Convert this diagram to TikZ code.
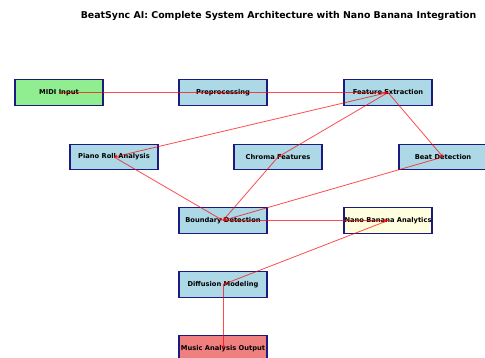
\documentclass[tikz,border=0pt]{standalone}
\usepackage{fontspec}
\setmainfont{DejaVu Sans}
\usetikzlibrary{arrows.meta}
\definecolor{lgreen}{HTML}{90EE90}
\definecolor{lblue}{HTML}{ADD8E6}
\definecolor{lyellow}{HTML}{FFFFE0}
\definecolor{lcoral}{HTML}{F08080}
\definecolor{navyb}{HTML}{1A1A80}
\tikzset{
  box/.style={draw=navyb, line width=1.1pt, minimum width=88pt, minimum height=25.5pt, inner sep=0pt, font=\fontsize{6.7}{8}\selectfont\bfseries},
  flow/.style={draw=red, draw opacity=0.7, line width=0.8pt, -{Stealth[length=3.5pt,width=3.5pt]}}
}
\begin{document}
\begin{tikzpicture}[x=1pt,y=-1pt]
\useasboundingbox (0,0) rectangle (485,358);
\node[font=\fontsize{9.4}{11}\selectfont\bfseries] (title) at (278.5,15.5) {BeatSync AI: Complete System Architecture with Nano Banana Integration};
\node[box, fill=lgreen] (midi) at (59,92.5) {MIDI Input};
\node[box, fill=lblue] (pre) at (223,92.5) {Preprocessing};
\node[box, fill=lblue] (fe) at (388,92.5) {Feature Extraction};
\node[box, fill=lblue] (piano) at (114,157) {Piano Roll Analysis};
\node[box, fill=lblue] (chroma) at (278,157) {Chroma Features};
\node[box, fill=lblue] (beat) at (443,157) {Beat Detection};
\node[box, fill=lblue] (bound) at (223,220.5) {Boundary Detection};
\node[box, fill=lyellow] (nano) at (388,220.5) {Nano Banana Analytics};
\node[box, fill=lblue] (diff) at (223,284.5) {Diffusion Modeling};
\node[box, fill=lcoral] (out) at (223,348.5) {Music Analysis Output};
\draw[flow] (midi.center) -- (pre.center);
\draw[flow] (pre.center) -- (fe.center);
\draw[flow] (fe.center) -- (piano.center);
\draw[flow] (fe.center) -- (chroma.center);
\draw[flow] (fe.center) -- (beat.center);
\draw[flow] (piano.center) -- (bound.center);
\draw[flow] (chroma.center) -- (bound.center);
\draw[flow] (beat.center) -- (bound.center);
\draw[flow] (bound.center) -- (nano.center);
\draw[flow] (nano.center) -- (diff.center);
\draw[flow] (diff.center) -- (out.center);
\end{tikzpicture}
\end{document}
